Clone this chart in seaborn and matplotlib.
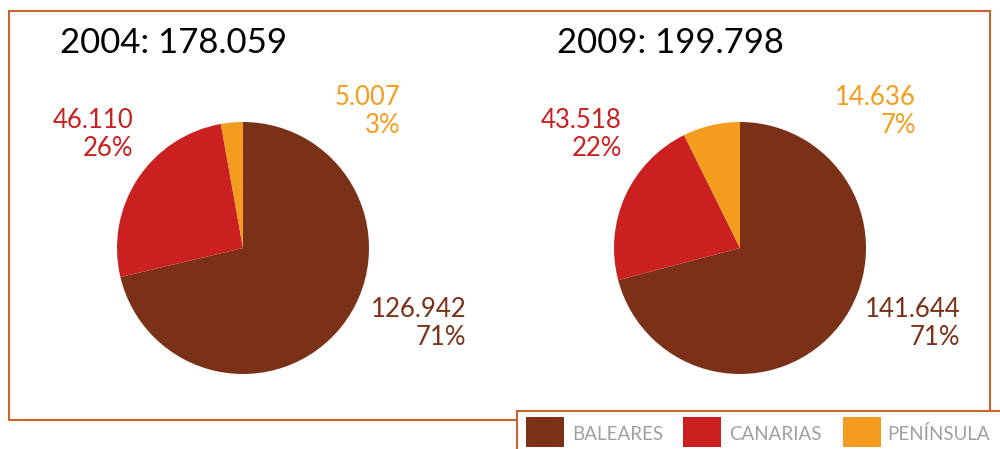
import matplotlib
matplotlib.use("Agg")
import matplotlib.pyplot as plt
import seaborn as sns
from matplotlib.patches import Rectangle

sns.set_theme(style="white")
plt.rcParams['font.family'] = ['Lato', 'DejaVu Sans']

categories = ["BALEARES", "CANARIAS", "PENÍNSULA"]
colors = ["#7B3118", "#CB2020", "#F39C1E"]
years = ["2004", "2009"]
totals = ["178.059", "199.798"]
values_2004 = [126942, 46110, 5007]
values_2009 = [141644, 43518, 14636]
value_labels_2004 = ["126.942", "46.110", "5.007"]
value_labels_2009 = ["141.644", "43.518", "14.636"]
pct_2004 = ["71%", "26%", "3%"]
pct_2009 = ["71%", "22%", "7%"]

W, H = 1000, 449
fig = plt.figure(figsize=(W / 100, H / 100), dpi=100)

def px(x, y):
    return x / W, 1 - y / H

border = "#C8622E"
# outer frame
fig.patches.append(Rectangle(px(9, 420), (990 - 9) / W, (420 - 11) / H,
                             transform=fig.transFigure, fill=False,
                             edgecolor=border, linewidth=1.5, zorder=0))
# legend frame
fig.patches.append(Rectangle(px(517, 460), 600 / W, (460 - 411) / H,
                             transform=fig.transFigure, facecolor="white",
                             edgecolor=border, linewidth=1.5, zorder=1))

centers = [243, 740]
R = 126
datasets = [(values_2004, value_labels_2004, pct_2004),
            (values_2009, value_labels_2009, pct_2009)]
# label anchor positions (right edge x, top y) in pixels per slice
label_pos = [
    [(466, 297), (133, 108), (400, 85)],
    [(960, 297), (622, 108), (916, 85)],
]
title_x = [60, 557]

for i, (cx, (vals, vlabs, pcts)) in enumerate(zip(centers, datasets)):
    l, b = px(cx - R, 248 + R)
    ax = fig.add_axes([l, b, 2 * R / W, 2 * R / H])
    ax.pie(vals, colors=colors, startangle=90, counterclock=False,
           wedgeprops=dict(linewidth=0))
    ax.set_xlim(-1, 1)
    ax.set_ylim(-1, 1)
    ax.set_aspect("equal")
    ax.axis("off")
    tx, ty = px(title_x[i], 43)
    fig.text(tx, ty, f"{years[i]}: {totals[i]}", fontsize=25, color="black",
             ha="left", va="center")
    for j in range(3):
        x, y = label_pos[i][j]
        fx, fy = px(x, y)
        fig.text(fx, fy, f"{vlabs[j]}\n{pcts[j]}", color=colors[j], fontsize=18.5,
                 ha="right", va="top", multialignment="right", linespacing=1.15)

# legend
leg_items = [(526, 572), (683, 729), (843, 887)]
for (sx, tx), cat, col in zip(leg_items, categories, colors):
    fig.patches.append(Rectangle(px(sx, 447), 38 / W, 30 / H,
                                 transform=fig.transFigure, facecolor=col,
                                 edgecolor="none", zorder=2))
    fx, fy = px(tx, 434)
    fig.text(fx, fy, cat, color="#A0A0A0", fontsize=13.5, ha="left", va="center")

fig.savefig("out.png", dpi=100)
